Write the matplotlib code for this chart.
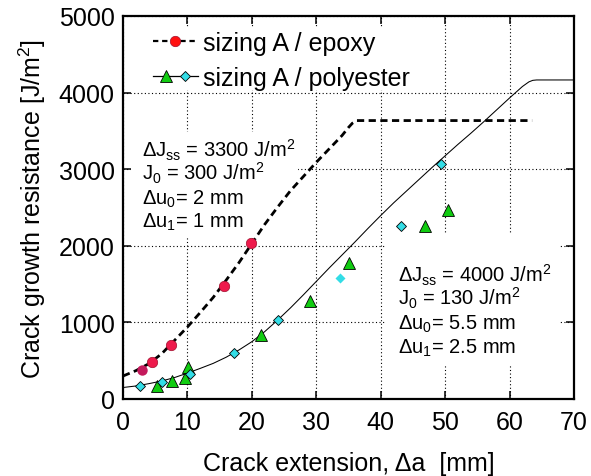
import matplotlib
matplotlib.use("Agg")
import matplotlib.pyplot as plt
from matplotlib.lines import Line2D
from matplotlib.patches import Rectangle
from matplotlib.legend_handler import HandlerBase

plt.rcParams["font.family"] = ["Liberation Sans", "DejaVu Sans"]
plt.rcParams["mathtext.fontset"] = "custom"
plt.rcParams["mathtext.rm"] = "Liberation Sans"
plt.rcParams["mathtext.it"] = "Liberation Sans:italic"
plt.rcParams["mathtext.bf"] = "Liberation Sans:bold"

# Measured crack growth resistance, sizing A / epoxy
epoxy_da = [2.9, 4.45, 7.4, 15.6, 19.9]
epoxy_J = [382, 478, 708, 1477, 2040]

# Measured crack growth resistance, sizing A / polyester (two specimens)
poly_tri_da = [5.2, 7.6, 9.7, 10.1, 21.4, 29.0, 35.0, 46.9, 50.4]
poly_tri_J = [170, 239, 272, 413, 834, 1275, 1780, 2265, 2465]
poly_dia_da = [2.6, 6.0, 10.4, 17.3, 24.0, 33.7, 43.2, 49.3]
poly_dia_J = [170, 222, 332, 598, 1034, 1574, 2252, 3064]

# Model R-curves
epoxy_fit_da = [0, 2, 4, 6, 8, 10, 12, 14, 16, 18, 20, 22, 24, 26, 28, 30,
                32, 34, 35, 35.6, 36.3, 63.5]
epoxy_fit_J = [300, 370, 460, 590, 765, 940, 1130, 1326, 1550, 1780, 2030,
               2280, 2505, 2720, 2905, 3090, 3265, 3440, 3545, 3600, 3635, 3635]
poly_fit_da = [0, 2, 4, 6, 8, 10, 12, 14, 16, 18, 20, 22, 24, 26, 28, 30, 32,
               34, 36, 38, 40, 42, 44, 46, 48, 50, 52, 54, 56, 58, 60, 62, 63,
               63.6, 64.2, 70]
poly_fit_J = [150, 170, 200, 235, 280, 338, 400, 465, 545, 640, 748, 880,
              1030, 1190, 1360, 1535, 1710, 1880, 2050, 2225, 2395, 2560, 2715,
              2870, 3025, 3175, 3325, 3470, 3620, 3775, 3930, 4080, 4140, 4160,
              4165, 4165]

x_ticks = [0, 10, 20, 30, 40, 50, 60, 70]
y_ticks = [0, 1000, 2000, 3000, 4000, 5000]

RED = "#ee1a4c"
RED_DARK = "#c41a5c"
GREEN = "#11cc11"
CYAN = "#33dde6"

fig = plt.figure(figsize=(5.91, 4.77), dpi=100)
ax = fig.add_axes([123 / 591, 1 - 400 / 477, 451 / 591, 383 / 477])

ax.set_axisbelow(True)
ax.grid(True, color="black", linestyle=(0, (1, 2.2)), linewidth=0.8)

# white backgrounds behind the legend and the parameter notes
for (x0, y0, w, h) in [(0.009, 0.806, 0.64, 0.165),
                       (0.018, 0.426, 0.37, 0.27),
                       (0.58, 0.09, 0.39, 0.34)]:
    ax.add_patch(Rectangle((x0, y0), w, h, transform=ax.transAxes,
                           facecolor="white", edgecolor="none", zorder=1))

ax.plot(epoxy_fit_da, epoxy_fit_J, color="black", lw=2.0,
        linestyle=(0, (2.6, 1.6)), zorder=2)
ax.plot(poly_fit_da, poly_fit_J, color="black", lw=0.75, zorder=2)

ax.plot(epoxy_da[:1], epoxy_J[:1], "o", ms=7.5, mfc=RED_DARK, mec="none",
        zorder=3)
ax.plot(epoxy_da[1:], epoxy_J[1:], "o", ms=7.5, mfc=RED, mec="#a0102e",
        mew=0.5, zorder=3)
ax.plot(poly_tri_da, poly_tri_J, "^", ms=8.5, mfc=GREEN, mec="black",
        mew=0.6, zorder=3)
edged = [i for i in range(len(poly_dia_da)) if i != 5]
ax.plot([poly_dia_da[i] for i in edged], [poly_dia_J[i] for i in edged], "D",
        ms=5.0, mfc=CYAN, mec="black", mew=0.6, zorder=4)
ax.plot(poly_dia_da[5:6], poly_dia_J[5:6], "D", ms=5.0, mfc=CYAN, mec="none",
        zorder=4)

ax.set_xlim(0, 70)
ax.set_ylim(0, 5000)
ax.set_xticks(x_ticks)
ax.set_yticks(y_ticks)
ax.tick_params(direction="in", length=6, width=1.1, top=True, right=True,
               labelsize=18, pad=6)
ax.tick_params(axis="x", pad=8)
for s in ax.spines.values():
    s.set_linewidth(1.6)

ax.set_xlabel("Crack extension, \u0394a  [mm]", fontsize=18, labelpad=12)
ax.set_ylabel("Crack growth resistance [J/m$^2$]", fontsize=18, labelpad=8)

notes_epoxy = ["\u0394J$_\\mathrm{ss}$ = 3300 J/m$^2$",
               "J$_0$ = 300 J/m$^2$",
               "\u0394u$_0$= 2 mm",
               "\u0394u$_1$= 1 mm"]
notes_poly = ["\u0394J$_\\mathrm{ss}$ = 4000 J/m$^2$",
              "J$_0$ = 130 J/m$^2$",
              "\u0394u$_0$= 5.5 mm",
              "\u0394u$_1$= 2.5 mm"]
for i, t in enumerate(notes_epoxy):
    ax.text(2.95, 3170 - 308 * i, t, fontsize=14.5, va="baseline",
            ha="left", zorder=5)
for i, t in enumerate(notes_poly):
    ax.text(42.7, 1539 - 310 * i, t, fontsize=14.5, va="baseline",
            ha="left", zorder=5)


class MarkerPairHandler(HandlerBase):
    """Solid line with a triangle and a diamond side by side."""

    def create_artists(self, legend, orig_handle, xdescent, ydescent, width,
                       height, fontsize, trans):
        y = height / 2 - ydescent
        x0 = -xdescent
        line = Line2D([x0, x0 + width], [y, y], color="black", lw=0.9)
        tri = Line2D([x0 + 0.30 * width], [y], marker="^", ms=8.5, mfc=GREEN,
                     mec="black", mew=0.6, linestyle="none")
        dia = Line2D([x0 + 0.72 * width], [y], marker="D", ms=5.0, mfc=CYAN,
                     mec="black", mew=0.6, linestyle="none")
        for a in (line, tri, dia):
            a.set_transform(trans)
        return [line, tri, dia]


h_epoxy = Line2D([], [], color="black", lw=1.6, linestyle=(0, (2.4, 1.7)),
                 marker="o", ms=7.5, mfc="#ff1010", mec="#a0102e", mew=0.5)
h_poly = ("poly",)
leg = ax.legend([h_epoxy, h_poly], ["sizing A / epoxy", "sizing A / polyester"],
                handler_map={tuple: MarkerPairHandler()},
                loc="upper left", bbox_to_anchor=(0.066, 0.962),
                borderaxespad=0, borderpad=0, frameon=False, fontsize=18,
                handlelength=1.8, handletextpad=0.22, labelspacing=0.45,
                numpoints=1)

fig.savefig("out.png", dpi=100)
